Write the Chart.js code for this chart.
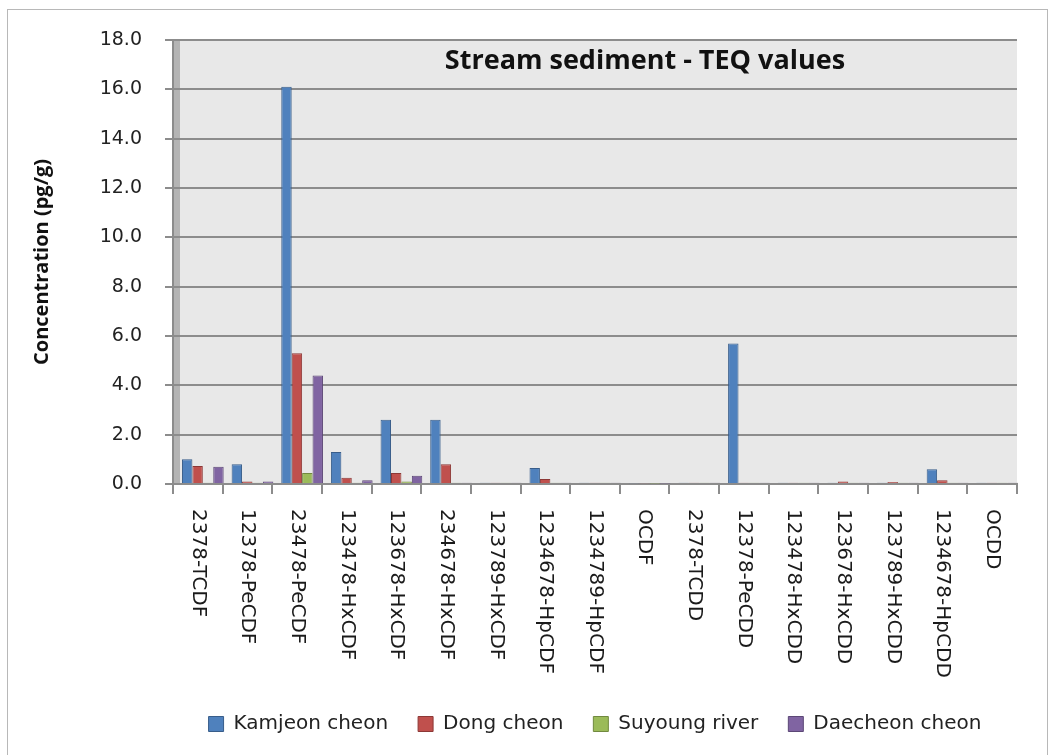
<!DOCTYPE html>
<html>
<head>
<meta charset="utf-8">
<title>Stream sediment - TEQ values</title>
<script src="https://cdn.jsdelivr.net/npm/chart.js@4.4.0/dist/chart.umd.min.js"></script>
<style>
    html, body { margin: 0; padding: 0; background: #fff; }
    #wrap { position: relative; width: 1056px; height: 755px; overflow: hidden; }
    #frame {
        position: absolute; left: 7px; top: 9px; width: 1041px; height: 780px;
        border: 1px solid #b8b8b8; box-sizing: border-box;
    }
    #chartTitle {
        position: absolute; left: 395px; top: 40px; width: 500px; text-align: center;
        font: bold 27px "Open Sans", sans-serif; color: #111;
    }
</style>
</head>
<body>
<div id="wrap">
    <div id="frame"></div>
    <canvas id="myChart" width="1056" height="755"></canvas>
    <div id="chartTitle">Stream sediment - TEQ values</div>
</div>
<script>
const congeners = [
    '2378-TCDF', '12378-PeCDF', '23478-PeCDF', '123478-HxCDF', '123678-HxCDF',
    '234678-HxCDF', '123789-HxCDF', '1234678-HpCDF', '1234789-HpCDF', 'OCDF',
    '2378-TCDD', '12378-PeCDD', '123478-HxCDD', '123678-HxCDD', '123789-HxCDD',
    '1234678-HpCDD', 'OCDD'
];
const kamjeon  = [1.0, 0.8, 16.1, 1.3, 2.6, 2.6, 0.05, 0.65, 0.05, 0.03, 0.05, 5.7, 0.05, 0.05, 0.05, 0.6, 0.05];
const dong     = [0.73, 0.1, 5.3, 0.25, 0.45, 0.8, 0.05, 0.2, 0.05, 0.03, 0.05, 0.05, 0.05, 0.1, 0.08, 0.15, 0.05];
const suyoung  = [0.05, 0.05, 0.45, 0.05, 0.1, 0.05, 0.05, 0.05, 0.05, 0.02, 0.05, 0.05, 0.05, 0.05, 0.05, 0.05, 0.05];
const daecheon = [0.7, 0.1, 4.4, 0.15, 0.33, 0.05, 0.05, 0.05, 0.05, 0.02, 0.05, 0.05, 0.05, 0.05, 0.05, 0.05, 0.05];

const yMin = 0;
const yMax = 18;
const yStep = 2;

const gridGrey = '#8c8c8c';
const depthShift = 5;   // bars sit a little right of the category, like the 3D original

// grey back wall and the side wall of the 3D plot area
const plotBackground = {
    id: 'plotBackground',
    beforeDraw(chart) {
        const ctx = chart.ctx;
        const a = chart.chartArea;
        ctx.save();
        ctx.fillStyle = '#e8e8e8';
        ctx.fillRect(a.left, a.top, a.right - a.left, a.bottom - a.top);
        ctx.fillStyle = '#b4b4b4';
        ctx.fillRect(a.left, a.top, 7, a.bottom - a.top);
        ctx.restore();
    }
};

const barDepth = {
    id: 'barDepth',
    beforeDatasetsDraw(chart) {
        chart.ctx.save();
        chart.ctx.translate(depthShift, 0);
    },
    afterDatasetsDraw(chart) {
        chart.ctx.restore();
    }
};

// category labels read top to bottom, which the x scale cannot do by itself
const verticalLabels = {
    id: 'verticalLabels',
    afterDraw(chart) {
        const ctx = chart.ctx;
        const xScale = chart.scales.x;
        ctx.save();
        ctx.font = '20px "DejaVu Sans"';
        ctx.fillStyle = '#1a1a1a';
        ctx.textAlign = 'left';
        ctx.textBaseline = 'middle';
        xScale.getLabels().forEach((label, i) => {
            ctx.save();
            ctx.translate(xScale.getPixelForValue(i), xScale.top + 25);
            ctx.rotate(Math.PI / 2);
            ctx.fillText(label, 0, 0);
            ctx.restore();
        });
        ctx.restore();
    }
};

function series(label, data, fill, edge) {
    return {
        label: label,
        data: data,
        backgroundColor: fill,
        borderColor: edge,
        borderWidth: 1,
        categoryPercentage: 0.84,
        barPercentage: 1.0
    };
}

const ctx = document.getElementById('myChart').getContext('2d');
const chart = new Chart(ctx, {
    type: 'bar',
    data: {
        labels: congeners,
        datasets: [
            series('Kamjeon cheon', kamjeon, '#4f81bd', '#385d8a'),
            series('Dong cheon', dong, '#c0504d', '#8c3836'),
            series('Suyoung river', suyoung, '#9bbb59', '#71893f'),
            series('Daecheon cheon', daecheon, '#8064a2', '#5c4776')
        ]
    },
    options: {
        responsive: false,
        animation: false,
        layout: { padding: { left: 8, right: 39, top: 40, bottom: 11 } },
        plugins: {
            title: { display: false },
            tooltip: { enabled: false },
            legend: {
                position: 'bottom',
                fullSize: false,
                labels: {
                    boxWidth: 15,
                    boxHeight: 15,
                    padding: 30,
                    color: '#222',
                    font: { family: '"DejaVu Sans"', size: 20 }
                }
            }
        },
        scales: {
            x: {
                ticks: { display: false },
                grid: { drawOnChartArea: false, drawTicks: true, tickLength: 10, color: gridGrey, lineWidth: 2 },
                border: { color: gridGrey, width: 2 },
                afterFit(scale) { scale.height = 200; }
            },
            y: {
                min: yMin,
                max: yMax,
                ticks: {
                    stepSize: yStep,
                    padding: 23,
                    color: '#222',
                    font: { family: '"DejaVu Sans"', size: 19 },
                    callback: (v) => v.toFixed(1)
                },
                grid: { color: gridGrey, lineWidth: 2, tickLength: 8 },
                border: { color: gridGrey, width: 2 },
                title: {
                    display: true,
                    text: 'Concentration (pg/g)',
                    color: '#111',
                    font: { family: '"Open Sans"', size: 20, weight: 'bold' },
                    padding: { top: 22, bottom: 0 }
                },
                afterFit(scale) { scale.width = 165; }
            }
        }
    },
    plugins: [plotBackground, barDepth, verticalLabels]
});
</script>
</body>
</html>
